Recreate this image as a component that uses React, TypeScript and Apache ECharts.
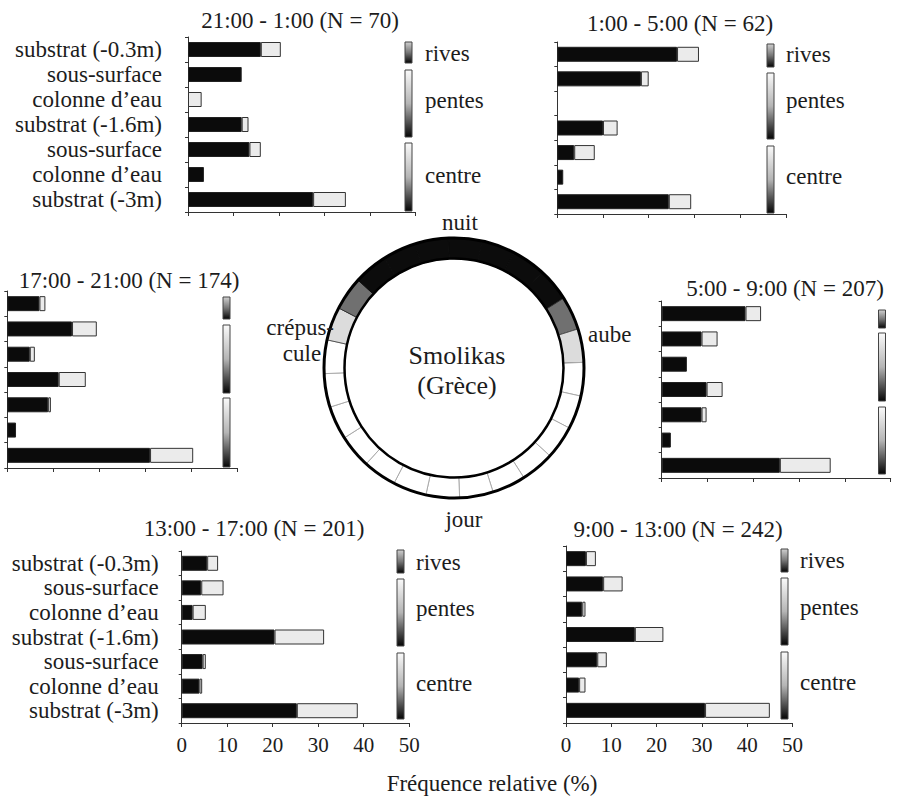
import React, { useEffect, useRef } from "react";
import * as echarts from "echarts";

// ---- data ----
const CATEGORIES = [
  "substrat (-0.3m)",
  "sous-surface",
  "colonne d’eau",
  "substrat (-1.6m)",
  "sous-surface",
  "colonne d’eau",
  "substrat (-3m)",
];

const TITLE_21_1 = "21:00 - 1:00 (N = 70)";
const BLACK_21_1 = [16.0, 11.8, 0, 11.8, 13.5, 3.5, 27.5];
const LIGHT_21_1 = [4.4, 0, 3.0, 1.5, 2.5, 0, 7.2];

const TITLE_1_5 = "1:00 - 5:00 (N = 62)";
const BLACK_1_5 = [26.2, 18.3, 0, 10.0, 3.7, 1.3, 24.4];
const LIGHT_1_5 = [4.8, 1.7, 0, 3.2, 4.5, 0, 4.9];

const TITLE_17_21 = "17:00 - 21:00 (N = 174)";
const BLACK_17_21 = [7.0, 14.1, 4.9, 11.2, 8.9, 1.9, 31.1];
const LIGHT_17_21 = [1.3, 5.4, 1.1, 5.9, 0.6, 0, 9.4];

const TITLE_5_9 = "5:00 - 9:00 (N = 207)";
const BLACK_5_9 = [18.3, 8.7, 5.5, 9.8, 8.7, 2.0, 25.8];
const LIGHT_5_9 = [3.4, 3.5, 0, 3.5, 1.1, 0, 11.1];

const TITLE_13_17 = "13:00 - 17:00 (N = 201)";
const BLACK_13_17 = [5.6, 4.3, 2.4, 20.4, 4.6, 3.9, 25.3];
const LIGHT_13_17 = [2.4, 4.9, 2.9, 10.9, 0.7, 0.6, 13.4];

const TITLE_9_13 = "9:00 - 13:00 (N = 242)";
const BLACK_9_13 = [4.4, 8.2, 3.6, 15.2, 6.9, 2.9, 30.7];
const LIGHT_9_13 = [2.2, 4.3, 0.7, 6.3, 2.1, 1.4, 14.3];

const X_MIN = 0;
const X_MAX = 50;
const X_STEP = 10;

const ZONES = ["rives", "pentes", "centre"];
// shade of each hour of the day ring, starting at midnight, clockwise
const RING_HOURS = [
  "nuit", "nuit", "nuit", "nuit", "aube1", "aube2",
  "jour", "jour", "jour", "jour", "jour", "jour",
  "jour", "jour", "jour", "jour", "jour", "jour",
  "jour", "crep2", "crep1", "nuit", "nuit", "nuit",
];
const RING_TEXTS = { top: "nuit", bottom: "jour", right: "aube", left1: "crépus-", left2: "cule", c1: "Smolikas", c2: "(Grèce)" };
const X_NAME = "Fréquence relative (%)";

// ---- layout / style ----
const FONT = "Liberation Serif";
const TXT = "#1c1c1c";

const PANELS = [
  { title: TITLE_21_1, black: BLACK_21_1, light: LIGHT_21_1, grid: { left: 188, top: 37, width: 227.5, height: 175 }, titlePos: [300, 20], showY: true, yMargin: 26, showX: false,
    leg: { x: 405, bars: [[42, 63], [70, 137], [143, 211]], labels: true, lx: 425, ly: [53, 100, 175] } },
  { title: TITLE_1_5, black: BLACK_1_5, light: LIGHT_1_5, grid: { left: 557.3, top: 42, width: 228.5, height: 172 }, titlePos: [680, 23], showY: false, yMargin: 0, showX: false,
    leg: { x: 767, bars: [[44, 67], [73, 139], [146, 213]], labels: true, lx: 786, ly: [54, 100, 176] } },
  { title: TITLE_17_21, black: BLACK_17_21, light: LIGHT_17_21, grid: { left: 7.3, top: 291, width: 229.5, height: 177 }, titlePos: [129, 280], showY: false, yMargin: 0, showX: false,
    leg: { x: 223, bars: [[297, 319], [325, 393], [398, 467]], labels: false, lx: 0, ly: [] } },
  { title: TITLE_5_9, black: BLACK_5_9, light: LIGHT_5_9, grid: { left: 661.7, top: 301, width: 229, height: 177 }, titlePos: [785, 288], showY: false, yMargin: 0, showX: false,
    leg: { x: 878.5, bars: [[310, 328], [333, 401], [407, 474]], labels: false, lx: 0, ly: [] } },
  { title: TITLE_13_17, black: BLACK_13_17, light: LIGHT_13_17, grid: { left: 181.7, top: 551, width: 227.5, height: 172 }, titlePos: [254, 528], showY: true, yMargin: 23, showX: true,
    leg: { x: 397, bars: [[550, 573], [579, 646], [653, 719]], labels: true, lx: 416, ly: [562, 608, 683] } },
  { title: TITLE_9_13, black: BLACK_9_13, light: LIGHT_9_13, grid: { left: 566, top: 546, width: 226.5, height: 177 }, titlePos: [678, 529], showY: false, yMargin: 0, showX: true,
    leg: { x: 781, bars: [[549, 572], [578, 645], [652, 719]], labels: true, lx: 800, ly: [560, 607, 682] } },
];

const RING = { cx: 454, cy: 368, r0: 109.5, r1: 130 };
const SHADE: Record<string, string> = { nuit: "#0c0c0c", aube1: "#707070", aube2: "#dcdcdc", crep1: "#707070", crep2: "#dcdcdc", jour: "#ffffff" };
const SHADE_BORDER: Record<string, string> = { nuit: "#0c0c0c", aube1: "#333", aube2: "#555", crep1: "#333", crep2: "#555", jour: "#aaaaaa" };

function text(x: number, y: number, t: string, size: number, align = "center", valign = "middle") {
  return {
    type: "text",
    z: 100,
    style: { x, y, text: t, fill: TXT, fontFamily: FONT, fontSize: size, textAlign: align, textVerticalAlign: valign },
  };
}

export default function App() {
  const ref = useRef<HTMLDivElement>(null);
  useEffect(() => {
    if (!ref.current) return;
    const chart = echarts.init(ref.current, undefined, { renderer: "svg" });

    const grids: any[] = [];
    const xAxes: any[] = [];
    const yAxes: any[] = [];
    const series: any[] = [];
    const graphics: any[] = [];

    PANELS.forEach((p, i) => {
      grids.push({ ...p.grid });
      xAxes.push({
        type: "value",
        gridIndex: i,
        min: X_MIN,
        max: X_MAX,
        interval: X_STEP,
        axisLine: { show: true, lineStyle: { color: "#333", width: 1 } },
        axisTick: { show: true, length: 4, lineStyle: { color: "#333" } },
        splitLine: { show: false },
        axisLabel: { show: p.showX, margin: 11, fontFamily: FONT, fontSize: 21, color: TXT },
      });
      yAxes.push({
        type: "category",
        gridIndex: i,
        inverse: true,
        data: CATEGORIES.map((_, k) => String(k)),
        axisLine: { show: true, lineStyle: { color: "#333", width: 1 } },
        axisTick: { show: true, length: 3, interval: 0, lineStyle: { color: "#333" } },
        axisLabel: {
          show: p.showY,
          interval: 0,
          margin: p.yMargin,
          fontFamily: FONT,
          fontSize: 23,
          color: TXT,
          formatter: (v: string) => CATEGORIES[Number(v)],
        },
      });
      series.push({
        type: "bar",
        name: "noir-" + i,
        xAxisIndex: i,
        yAxisIndex: i,
        stack: "s" + i,
        barWidth: 15,
        silent: true,
        data: p.black.map((v) => (v > 0 ? v : "-")),
        itemStyle: { color: "#0b0b0b", borderColor: "#222", borderWidth: 1 },
      });
      series.push({
        type: "bar",
        name: "clair-" + i,
        xAxisIndex: i,
        yAxisIndex: i,
        stack: "s" + i,
        barWidth: 15,
        silent: true,
        data: p.light.map((v) => (v > 0 ? v : "-")),
        itemStyle: { color: "#ebebeb", borderColor: "#333", borderWidth: 1 },
      });

      graphics.push(text(p.titlePos[0], p.titlePos[1], p.title, 23));
      p.leg.bars.forEach((b, k) => {
        graphics.push({
          type: "rect",
          z: 100,
          shape: { x: p.leg.x, y: b[0], width: 7, height: b[1] - b[0] },
          style: {
            fill: new echarts.graphic.LinearGradient(0, 0, 0, 1, [
              { offset: 0, color: k === 0 ? "#d0d0d0" : "#fafafa" },
              { offset: 0.5, color: k === 0 ? "#777" : "#b5b5b5" },
              { offset: 1, color: "#050505" },
            ]),
            stroke: "#444",
            lineWidth: 1,
          },
        });
        if (p.leg.labels) graphics.push(text(p.leg.lx, p.leg.ly[k], ZONES[k], 23, "left"));
      });
    });

    series.push({
      type: "pie",
      center: [RING.cx, RING.cy],
      radius: [RING.r0, RING.r1],
      startAngle: 92.5,
      clockwise: true,
      silent: true,
      label: { show: false },
      labelLine: { show: false },
      emphasis: { disabled: true },
      data: RING_HOURS.map((s, k) => ({
        name: "h" + k,
        value: 1,
        itemStyle: { color: SHADE[s], borderColor: SHADE_BORDER[s], borderWidth: 1 },
      })),
    });

    graphics.push({ type: "circle", z: 100, shape: { cx: RING.cx, cy: RING.cy, r: RING.r1 }, style: { fill: "none", stroke: "#000", lineWidth: 3 } });
    graphics.push({ type: "circle", z: 100, shape: { cx: RING.cx, cy: RING.cy, r: RING.r0 }, style: { fill: "none", stroke: "#000", lineWidth: 2.5 } });

    graphics.push(text(460, 222, RING_TEXTS.top, 23));
    graphics.push(text(464, 519, RING_TEXTS.bottom, 23));
    graphics.push(text(588, 334, RING_TEXTS.right, 23, "left"));
    graphics.push(text(334, 327, RING_TEXTS.left1, 23, "right"));
    graphics.push(text(302, 353, RING_TEXTS.left2, 23));
    graphics.push(text(457, 355, RING_TEXTS.c1, 26));
    graphics.push(text(457, 385, RING_TEXTS.c2, 26));
    graphics.push(text(492, 783, X_NAME, 23));

    chart.setOption({
      animation: false,
      backgroundColor: "#fff",
      textStyle: { fontFamily: FONT },
      grid: grids,
      xAxis: xAxes,
      yAxis: yAxes,
      series,
      graphic: { elements: graphics },
    });
    return () => chart.dispose();
  }, []);

  return <div ref={ref} style={{ position: "absolute", left: 0, top: 0, width: 900, height: 796 }} />;
}
